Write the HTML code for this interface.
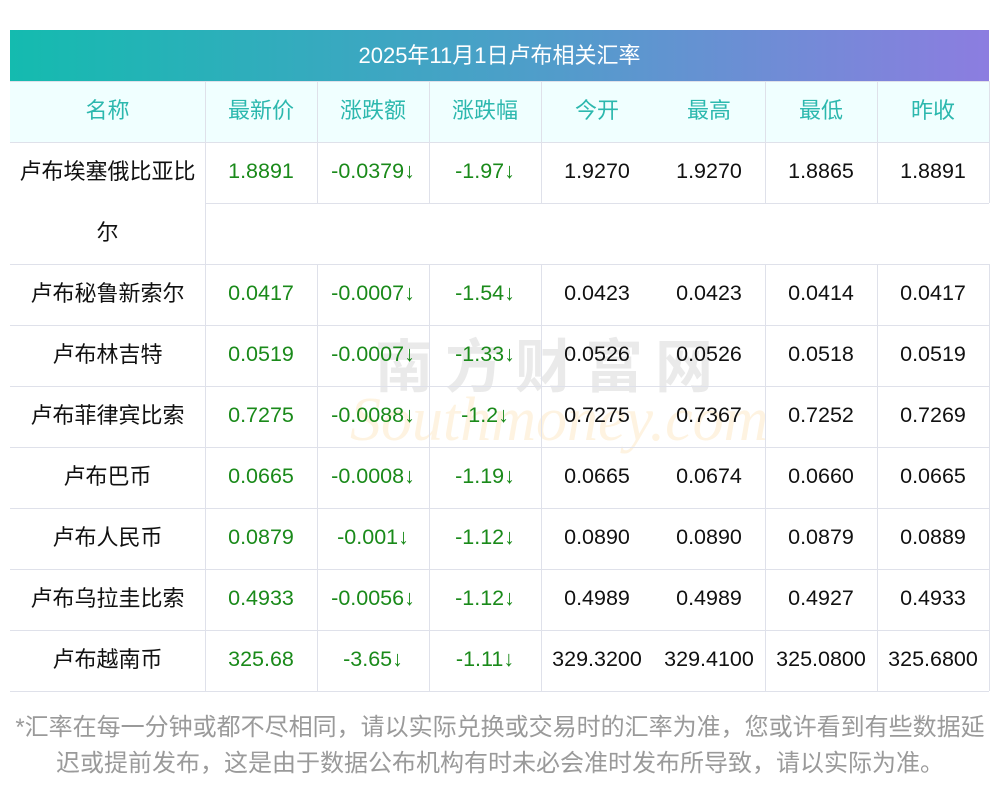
<!DOCTYPE html>
<html><head><meta charset="utf-8"><style>
body{margin:0;width:1000px;height:793px;background:#fff;font-family:"Liberation Sans","Noto Sans CJK SC",sans-serif;position:relative;overflow:hidden}
.title{position:absolute;left:10px;top:30px;width:979px;height:51px;background:linear-gradient(90deg,#14bbaf,#4aa0c8 50%,#8c7de0);color:#fff;font-size:22px;text-align:center;line-height:51px}
.c{position:absolute;text-align:center;font-size:21.5px;line-height:59px;height:61px;white-space:nowrap}
.h{color:#2cb8ae;font-size:22px}
.g{color:#1a8a1a}
.k{color:#111}
.n{color:#111;font-size:22px}
.vl{position:absolute;width:1px;background:#dfe1ea}
.hl{position:absolute;height:1px;background:#dfe1ea}
.foot{position:absolute;left:0;width:1000px;text-align:center;color:#9a9a9a;font-size:24px;white-space:nowrap}
.wm{position:absolute;font-size:58px;color:rgba(150,150,150,0.2);left:375px;top:320px;letter-spacing:12px;font-weight:bold}
.wm2{position:absolute;font-size:62px;font-style:italic;color:rgba(250,200,120,0.22);left:350px;top:385px;font-family:"Liberation Serif",serif}
</style></head><body>
<div class="title">2025年11月1日卢布相关汇率</div>
<div style="position:absolute;left:10px;top:81px;width:979px;height:61px;background:#f0ffff"></div>
<div class="wm">南方财富网</div>
<div class="wm2">Southmoney.com</div>
<div id="t"></div>
<div class="foot" style="top:707px">*汇率在每一分钟或都不尽相同，请以实际兑换或交易时的汇率为准，您或许看到有些数据延</div>
<div class="foot" style="top:743px">迟或提前发布，这是由于数据公布机构有时未必会准时发布所导致，请以实际为准。</div>
<script>
const xs=[10,205,317,429,541,653,765,877,989];
const H=["名称","最新价","涨跌额","涨跌幅","今开","最高","最低","昨收"];
const R=[["卢布埃塞俄比亚比","1.8891","-0.0379↓","-1.97↓","1.9270","1.9270","1.8865","1.8891"],
["卢布秘鲁新索尔","0.0417","-0.0007↓","-1.54↓","0.0423","0.0423","0.0414","0.0417"],
["卢布林吉特","0.0519","-0.0007↓","-1.33↓","0.0526","0.0526","0.0518","0.0519"],
["卢布菲律宾比索","0.7275","-0.0088↓","-1.2↓","0.7275","0.7367","0.7252","0.7269"],
["卢布巴币","0.0665","-0.0008↓","-1.19↓","0.0665","0.0674","0.0660","0.0665"],
["卢布人民币","0.0879","-0.001↓","-1.12↓","0.0890","0.0890","0.0879","0.0889"],
["卢布乌拉圭比索","0.4933","-0.0056↓","-1.12↓","0.4989","0.4989","0.4927","0.4933"],
["卢布越南币","325.68","-3.65↓","-1.11↓","329.3200","329.4100","325.0800","325.6800"]];
let h="";
function cell(i,y,txt,cls){h+=`<div class="c ${cls}" style="left:${xs[i]}px;top:${y}px;width:${xs[i+1]-xs[i]}px">${txt}</div>`}
H.forEach((t,i)=>cell(i,81,t,"h"));
const ys=[142,264,325,386,447,508,569,630];
R.forEach((r,j)=>{r.forEach((t,i)=>cell(i,ys[j],t,i==0?"n":(i<4?"g":"k")))});
cell(0,203,"尔","n");
[81,142,264,325,386,447,508,569,630,691].forEach(y=>h+=`<div class="hl" style="left:10px;top:${y}px;width:979px"></div>`);
h+=`<div class="hl" style="left:205px;top:203px;width:784px"></div>`;
[205,317,429,541,765,877,989].forEach(x=>{
 if(x==205){h+=`<div class="vl" style="left:${x}px;top:81px;height:610px"></div>`;}
 else{h+=`<div class="vl" style="left:${x}px;top:81px;height:122px"></div><div class="vl" style="left:${x}px;top:264px;height:427px"></div>`;}
});
document.getElementById("t").innerHTML=h;
</script>
</body></html>
